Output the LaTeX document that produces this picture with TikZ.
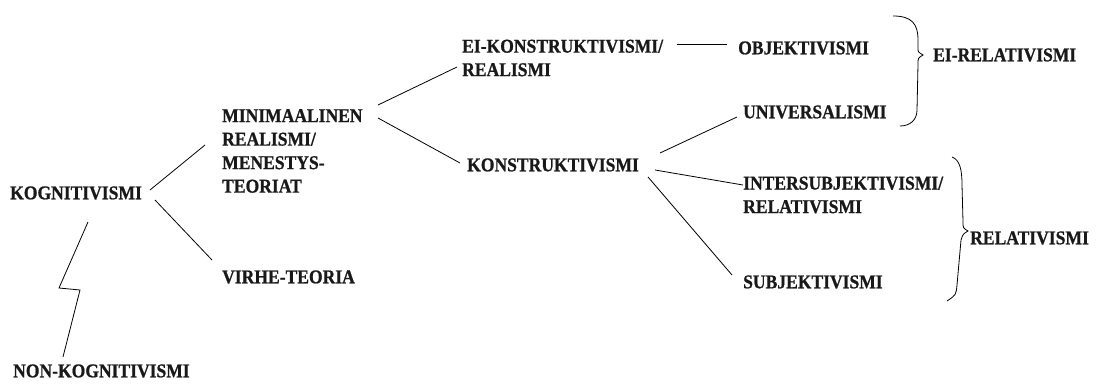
\documentclass[tikz,border=0pt]{standalone}
\usepackage{fontspec}
\setmainfont{Liberation Serif}
\newfontfamily\lblfont{Liberation Serif}[FakeStretch=0.9, BoldFeatures={FakeBold=0.8}]
\begin{document}
\begin{tikzpicture}[x=1pt,y=-1pt,
  lbl/.style={font=\lblfont\fontsize{19.5}{23.5}\selectfont\bfseries, inner sep=0pt, anchor=west, align=left, text=black!90},
  conn/.style={draw=black, line width=0.8pt},
  brace/.style={draw=black, line width=0.8pt}]
\useasboundingbox (0,0) rectangle (1099,390);
\fill[white] (0,0) rectangle (1099,390);
% nodes
\node[lbl] (kog) at (10,193) {KOGNITIVISMI};
\node[lbl] (non) at (13,371) {NON-KOGNITIVISMI};
\node[lbl] (min) at (222,151) {MINIMAALINEN\\REALISMI/\\MENESTYS-\\TEORIAT};
\node[lbl] (vir) at (222,277) {VIRHE-TEORIA};
\node[lbl] (eik) at (462,58) {EI-KONSTRUKTIVISMI/\\REALISMI};
\node[lbl] (kon) at (467,165) {KONSTRUKTIVISMI};
\node[lbl] (obj) at (738,48) {OBJEKTIVISMI};
\node[lbl] (uni) at (743,112) {UNIVERSALISMI};
\node[lbl] (int) at (743,195) {INTERSUBJEKTIVISMI/\\RELATIVISMI};
\node[lbl] (sub) at (743,282) {SUBJEKTIVISMI};
\node[lbl] (eirel) at (933,55) {EI-RELATIVISMI};
\node[lbl] (rel) at (970,238) {RELATIVISMI};
% connector end points
\coordinate (kogA) at (150,190); \coordinate (minA) at (205,145);
\coordinate (kogB) at (155,200); \coordinate (virA) at (212,260);
\coordinate (kogC) at (88,222);  \coordinate (nonA) at (63,357);
\coordinate (minB) at (378,105); \coordinate (eikA) at (457,67);
\coordinate (minC) at (378,118); \coordinate (konA) at (460,163);
\coordinate (eikB) at (677,44);  \coordinate (objA) at (727,44);
\coordinate (konB) at (660,153); \coordinate (uniA) at (737,117);
\coordinate (konC) at (655,170); \coordinate (intA) at (743,185);
\coordinate (konD) at (648,177); \coordinate (subA) at (732,275);
% connectors
\draw[conn] (kogA) -- (minA);
\draw[conn] (kogB) -- (virA);
\draw[conn] (kogC) -- (59,288) -- (80,290) -- (nonA);
\draw[conn] (minB) -- (eikA);
\draw[conn] (minC) -- (konA);
\draw[conn] (eikB) -- (objA);
\draw[conn] (konB) -- (uniA);
\draw[conn] (konC) -- (intA);
\draw[conn] (konD) -- (subA);
% braces
\draw[brace] (893,16) .. controls (912,16) and (918,24) .. (918,40) -- (918,48)
  .. controls (918,52) .. (923,55) .. controls (918,58) .. (918,64) -- (917,110)
  .. controls (917,120) and (910,126) .. (900,126);
\draw[brace] (952,157) .. controls (960,160) and (962,170) .. (962,185) -- (963,222)
  .. controls (963,228) .. (968,231) .. controls (963,234) .. (961,240) -- (957,285)
  .. controls (956,295) .. (947,301);
\end{tikzpicture}
\end{document}
